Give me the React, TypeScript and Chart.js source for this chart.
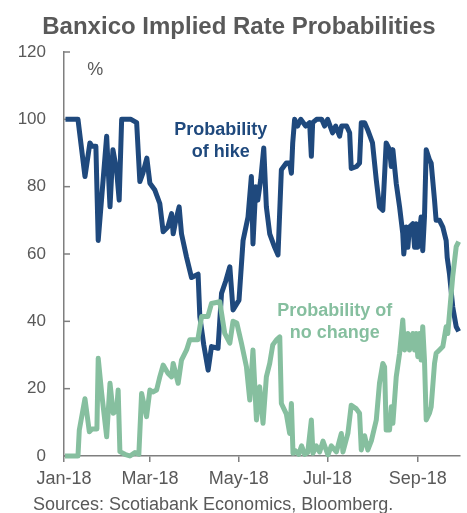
import React, { useEffect, useRef } from "react";
import { Chart, registerables } from "chart.js";

Chart.register(...registerables);

// x values are days since 1 Jan 2018
const tickDays = [0, 59, 120, 181, 243];
const tickLabels = ["Jan-18", "Mar-18", "May-18", "Jul-18", "Sep-18"];
const yTicks = [0, 20, 40, 60, 80, 100, 120];
const sourceText = "Sources: Scotiabank Economics, Bloomberg.";

const hikeDays = [
  1, 9.6, 14.4, 17.8, 19.2, 21.9, 23.5, 29.3, 31.6, 33.6, 36.1, 37.9, 39.6, 42.5, 46.0, 49.9,
  52.1, 54.2, 56.9, 59.0, 62.4, 65.8, 68.1, 71.3, 73.9, 75.0, 76.8, 79.1, 80.7, 84.2, 87.6,
  92.1, 93.3, 96.0, 99.0, 101.3, 105.8, 108.2, 111.1, 113.9, 116.1, 120.2, 123.0, 126.4,
  128.7, 129.8, 131.7, 133.1, 135.1, 137.2, 139.0, 141.3, 144.7, 147.0, 149.3, 152.7,
  155.0, 156.2, 157.1, 158.4, 160.5, 162.6, 166.0, 168.7, 169.9, 170.8, 173.5, 177.0,
  179.0, 181.1, 184.5, 186.6, 189.3, 190.7, 194.1, 196.2, 197.3, 201.0, 203.0, 204.2,
  206.5, 208.5, 211.9, 214.5, 216.7, 219.0, 221.3, 223.6, 224.8, 225.9, 228.2, 230.5,
  232.7, 233.4, 235.1, 236.2, 237.3, 239.6, 240.8, 241.9, 243.0, 245.3, 246.4, 247.6,
  248.8, 251.0, 252.2, 254.5, 255.6, 257.9, 260.2, 262.5, 263.2, 264.8, 267.0, 269.4, 271.1,
];
const hikeValues = [
  100, 100, 83, 93, 92, 92, 64, 95, 74, 91, 85, 76, 100, 100, 100, 99,
  81.5, 84, 88.5, 81, 79, 75, 66.6, 68, 72, 66, 70, 74, 66, 59, 53,
  54, 41.4, 33, 25.5, 32.5, 32, 48.3, 52, 56.2, 43.4, 46.3, 64, 71,
  83, 63, 80, 76, 82, 91.5, 74, 66, 62, 59.7, 85, 87,
  87, 84, 93, 100, 98, 100, 98, 99, 89, 99, 100, 100,
  98, 100, 96, 98, 95, 98, 98, 96, 85.4, 86, 87, 99,
  99, 97, 93, 82, 74, 73, 93, 91, 86, 91, 81, 74,
  66, 60, 68, 62, 68, 69, 62, 69, 62, 71, 61, 71,
  91, 88, 87, 76, 70, 70, 68, 64, 59, 54, 44.3, 38.4, 37,
];

const holdDays = [
  0.7, 9.6, 10.5, 14.4, 17.4, 19.2, 22.6, 23.5, 25.9, 29.3, 31.6, 33.8, 36.1, 37.2, 38.4,
  41.8, 45.3, 48.7, 51.4, 53.3, 56.7, 59.0, 61.0, 63.6, 65.8, 68.1, 71.5, 73.9, 75.0, 78.4,
  80.7, 84.2, 86.4, 91.9, 94.5, 98.8, 101.3, 107.0, 110.4, 113.9, 116.1, 118.7, 121.9,
  125.3, 127.6, 129.8, 132.2, 134.4, 136.7, 139.0, 141.3, 143.4, 145.9, 148.2, 149.3,
  152.7, 155.0, 156.2, 157.3, 159.1, 161.2, 163.2, 165.3, 167.4, 169.9, 171.0, 173.3,
  175.6, 177.9, 181.3, 183.6, 187.1, 190.5, 191.6, 195.0, 197.3, 200.8, 203.0, 204.2,
  206.5, 208.7, 211.1, 214.5, 216.7, 219.0, 220.2, 221.3, 223.6, 224.8, 225.9, 228.2,
  230.5, 232.7, 233.9, 236.2, 237.3, 239.6, 240.8, 241.9, 243.0, 244.2, 245.3, 246.4,
  247.6, 248.8, 251.0, 252.2, 254.5, 255.6, 257.9, 260.2, 262.5, 263.6, 264.8, 267.0,
  269.4, 271.1,
];
const holdValues = [
  0, 0, 7.7, 17, 7.2, 8, 8, 29, 18.6, 5.7, 21.6, 12.7, 13.5, 19.6, 1.3,
  0.5, 0, 1, 0.5, 18.6, 11.7, 19.6, 19, 19.6, 23.5, 27, 24.5, 23.5, 27.5, 21.6,
  28.5, 31.5, 34.5, 34.5, 41.4, 41.4, 45.3, 45.8, 36.4, 33.5, 40, 39.5, 33.5,
  26.5, 16.6, 31.5, 10.7, 20.6, 9.7, 23.5, 27.5, 33, 34.5, 35.4, 15.6,
  12.5, 6.7, 15.6, 0.8, 1.5, 0.5, 3, 0.5, 1, 10.7, 0.8, 3,
  1.2, 4.4, 0.3, 3, 1.2, 6.7, 1.2, 6.7, 15.1, 14, 12.7, 1.8,
  6, 1.8, 4.5, 10.7, 21.6, 27.5, 26.5, 7.7, 7.7, 14.6, 9.7, 23.5,
  30.5, 40.4, 31.5, 36.4, 31.5, 36.4, 31.5, 36.4, 29.5, 36.4, 28.5, 38.4,
  28.5, 10.7, 12.7, 14.6, 27.5, 30.5, 31.5, 32.5, 38.4, 36.4, 42.4, 53.3,
  62.2, 63.7,
];

const BLUE = "#1f497d";
const GREEN = "#86bf9f";
const TEXT = "#595959";
const AXIS = "#7f7f7f";
const FONT = "'Liberation Sans', Arial, sans-serif";

const notes = [
  { lines: ["Probability", "of hike"], day: 107.7, value: 96.8, color: BLUE, bold: true },
  { lines: ["Probability of", "no change"], day: 185.9, value: 43, color: GREEN, bold: true },
];

const extras = {
  id: "extras",
  beforeDatasetsDraw(chart: any) {
    const { ctx, scales } = chart;
    const x = scales.x;
    const y = scales.y;
    ctx.save();
    ctx.strokeStyle = AXIS;
    ctx.lineWidth = 1.5;
    y.ticks.forEach((t: any) => {
      const py = y.getPixelForValue(t.value);
      ctx.beginPath();
      ctx.moveTo(x.left, py);
      ctx.lineTo(x.left + 6, py);
      ctx.stroke();
    });
    ctx.restore();
  },
  afterDatasetsDraw(chart: any) {
    const { ctx, scales } = chart;
    const x = scales.x;
    const y = scales.y;
    ctx.save();
    ctx.textBaseline = "middle";
    ctx.fillStyle = TEXT;
    ctx.font = `18px ${FONT}`;
    ctx.textAlign = "left";
    ctx.fillText("%", x.getPixelForValue(16), y.getPixelForValue(114.6));
    notes.forEach((n) => {
      ctx.fillStyle = n.color;
      ctx.font = `${n.bold ? "bold " : ""}18px ${FONT}`;
      ctx.textAlign = "center";
      const cx = x.getPixelForValue(n.day);
      const cy = y.getPixelForValue(n.value);
      n.lines.forEach((l, i) => ctx.fillText(l, cx, cy + i * 21.5));
    });
    ctx.fillStyle = TEXT;
    ctx.font = `18px ${FONT}`;
    ctx.textAlign = "left";
    ctx.textBaseline = "alphabetic";
    ctx.fillText(sourceText, 33, chart.height - 3);
    ctx.restore();
  },
};

export default function App() {
  const ref = useRef<HTMLCanvasElement>(null);
  useEffect(() => {
    const hike = hikeDays.map((d, i) => ({ x: d, y: hikeValues[i] }));
    const hold = holdDays.map((d, i) => ({ x: d, y: holdValues[i] }));
    const chart = new Chart(ref.current as HTMLCanvasElement, {
      type: "line",
      data: {
        datasets: [
          {
            label: "Probability of no change",
            data: hold,
            borderColor: GREEN,
            borderWidth: 5,
            pointRadius: 0,
            tension: 0,
            clip: false as any,
            borderJoinStyle: "round",
            order: 0,
          },
          {
            label: "Probability of hike",
            data: hike,
            borderColor: BLUE,
            borderWidth: 5,
            pointRadius: 0,
            tension: 0,
            clip: false as any,
            borderJoinStyle: "round",
            order: 1,
          },
        ],
      },
      options: {
        responsive: false,
        animation: false,
        layout: { padding: { left: 18, right: 7, top: 0, bottom: 16 } },
        plugins: {
          legend: { display: false },
          tooltip: { enabled: false },
          title: {
            display: true,
            text: "Banxico Implied Rate Probabilities",
            color: TEXT,
            font: { family: FONT, size: 24, weight: "bold" },
            padding: { top: 13, bottom: 10.2 },
          },
        },
        scales: {
          x: {
            type: "linear",
            min: 0,
            max: 272,
            afterBuildTicks: (scale: any) => {
              scale.ticks = tickDays.map((v) => ({ value: v }));
            },
            ticks: {
              autoSkip: false,
              maxRotation: 0,
              color: TEXT,
              font: { family: FONT, size: 18 },
              padding: 6.7,
              callback: (v: any) => {
                const i = tickDays.indexOf(Number(v));
                return i >= 0 ? tickLabels[i] : "";
              },
            },
            grid: {
              drawOnChartArea: false,
              drawTicks: true,
              tickLength: 6,
              tickColor: AXIS,
              lineWidth: 1.5,
            },
            border: { display: true, color: AXIS, width: 1.5 },
          },
          y: {
            min: 0,
            max: 120,
            afterBuildTicks: (scale: any) => {
              scale.ticks = yTicks.map((v) => ({ value: v }));
            },
            afterFit: (scale: any) => {
              scale.width = 46;
            },
            ticks: {
              color: TEXT,
              font: { family: FONT, size: 17 },
              padding: 18,
            },
            grid: { drawOnChartArea: false, drawTicks: false },
            border: { display: true, color: AXIS, width: 1.5 },
          },
        },
      },
      plugins: [extras],
    });
    return () => chart.destroy();
  }, []);
  return (
    <div style={{ position: "absolute", left: 0, top: 0, width: 467, height: 513 }}>
      <canvas ref={ref} width={467} height={513} />
    </div>
  );
}
